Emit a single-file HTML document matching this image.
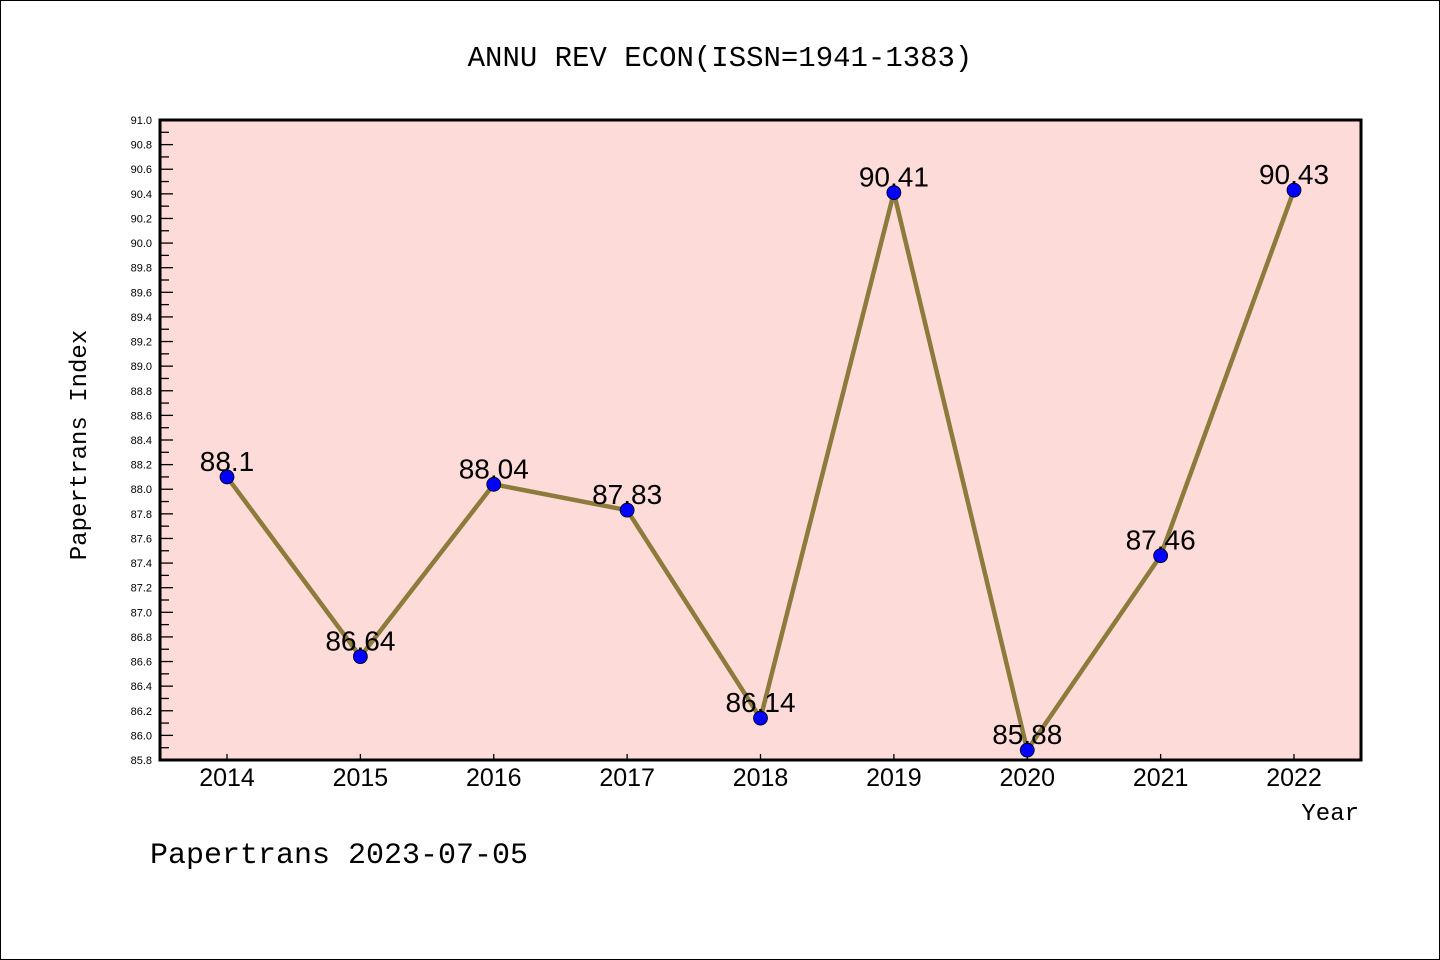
<!DOCTYPE html>
<html><head><meta charset="utf-8"><style>
html,body{margin:0;padding:0;background:#fff}
svg{display:block}
text{font-family:"Liberation Mono","DejaVu Sans Mono",monospace}
</style></head><body>
<svg id="chart" width="1440" height="960" xmlns="http://www.w3.org/2000/svg">
<rect x="0.5" y="0.5" width="1439" height="959" fill="#fff" stroke="#000"/>
<text x="720" y="66" font-size="29" text-anchor="middle">ANNU REV ECON(ISSN=1941-1383)</text>
<rect x="160" y="120" width="1201" height="640" fill="#fddbd8"/>
<g id="yticks"></g>
<g id="xticks"></g>
<g id="series"></g>
<rect x="160" y="120" width="1201" height="640" fill="none" stroke="#000" stroke-width="3"/>
<text x="86" y="445" font-size="24" text-anchor="middle" transform="rotate(-90 86 445)">Papertrans Index</text>
<text x="1359" y="820" font-size="24" text-anchor="end">Year</text>
<text x="150" y="863" font-size="30">Papertrans 2023-07-05</text>
</svg>
<script>
const years = [2014,2015,2016,2017,2018,2019,2020,2021,2022];
const values = [88.1,86.64,88.04,87.83,86.14,90.41,85.88,87.46,90.43];
const valueLabels = ["88.1","86.64","88.04","87.83","86.14","90.41","85.88","87.46","90.43"];
const yMin = 85.8, yMax = 91.0, yStep = 0.2;
const NS = "http://www.w3.org/2000/svg";
const L=160,R=1361,T=120,B=760;
function y(v){return B-(v-yMin)/(yMax-yMin)*(B-T);}
function x(i){return 227+i*(1294-227)/(years.length-1);}
function mk(tag,attrs,parent){const e=document.createElementNS(NS,tag);for(const k in attrs)e.setAttribute(k,attrs[k]);parent.appendChild(e);return e;}
const yg=document.getElementById('yticks'), xg=document.getElementById('xticks'), sg=document.getElementById('series');
const n=Math.round((yMax-yMin)/yStep);
for(let i=0;i<=n;i++){
  const v=yMin+i*yStep, yy=y(v);
  const t=mk('line',{x1:L,x2:L+13,y1:yy,y2:yy,stroke:'#000','stroke-width':1.3},yg);
  
  
  const lb=mk('text',{x:152,y:yy+4,'font-size':11,'text-anchor':'end',style:'font-family:"Liberation Sans",sans-serif'},yg);
  lb.textContent=v.toFixed(1);
  
  
  if(i<n){const ym=y(v+yStep/2);
    const m=mk('line',{x1:L,x2:L+9,y1:ym,y2:ym,stroke:'#000','stroke-width':1.3},yg);
    
    }
}
years.forEach((yr,i)=>{
  const t=mk('line',{x1:x(i),x2:x(i),y1:B,y2:B-6,stroke:'#000','stroke-width':1.3},xg);
  
  
  const lb=mk('text',{x:x(i),y:786,'font-size':25,'text-anchor':'middle',style:'font-family:"Liberation Sans",sans-serif'},xg);
  lb.textContent=yr;
  
  
});
const pl=mk('polyline',{points:values.map((v,i)=>x(i)+','+y(v)).join(' '),fill:'none',stroke:'#8c7b3a','stroke-width':4.5,'stroke-linejoin':'round'},sg);


values.forEach((v,i)=>{
  const c=mk('circle',{cx:x(i),cy:y(v),r:7,fill:'#0000ff',stroke:'#000','stroke-width':0.8},sg);
  
  
  const lb=mk('text',{x:x(i),y:y(v)-6,'font-size':28,'text-anchor':'middle',style:'font-family:"Liberation Sans",sans-serif'},sg);
  lb.textContent=valueLabels[i];
  
  
});
</script>
</body></html>
